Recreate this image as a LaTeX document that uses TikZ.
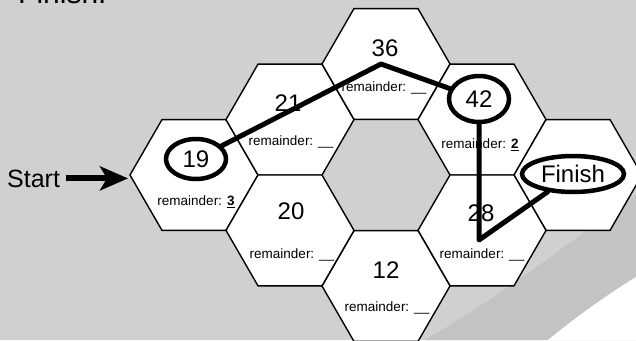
\documentclass[tikz,border=0pt]{standalone}
\usepackage{fontspec}
\setmainfont{Liberation Sans}
\usetikzlibrary{shapes.geometric,arrows.meta}
\definecolor{bg}{HTML}{D0D0D0}
\definecolor{bgdark}{HTML}{C3C3C3}
\begin{document}
\begin{tikzpicture}[x=1pt,y=-1pt,
  hexcell/.style={regular polygon, regular polygon sides=6, minimum size=128pt,
    inner sep=0pt, outer sep=0pt, draw=black, line width=1.4pt, fill=white},
  numtxt/.style={font=\fontsize{24}{28}\selectfont, inner sep=0pt},
  remtxt/.style={font=\fontsize{13.5}{16}\selectfont, inner sep=0pt},
  loopmark/.style={ellipse, draw=black, line width=4.5pt, inner sep=0pt},
  route/.style={line width=5pt, line join=round, line cap=round}
]
\useasboundingbox (0,0) rectangle (636,340);
\clip (0,0) rectangle (636,340);
% background
\fill[bg] (0,0) rectangle (636,340);
\fill[bgdark] (425,340) .. controls (520,285) and (590,225) .. (636,195) -- (636,340) -- cycle;
\fill[white] (548,340) .. controls (575,318) and (605,296) .. (636,277) -- (636,340) -- cycle;

% partially visible heading
\node[anchor=base west, font=\fontsize{30}{34}\selectfont, inner sep=0pt] (title) at (18,3) {Finish!};

% hexagons
\node[hexcell] (h19) at (194,175) {};
\node[hexcell] (h21) at (290,119.6) {};
\node[hexcell] (h36) at (386,64) {};
\node[hexcell] (h42) at (482,119.6) {};
\node[hexcell] (hfin) at (578,175) {};
\node[hexcell] (h28) at (482,230.4) {};
\node[hexcell] (h12) at (386,286) {};
\node[hexcell] (h20) at (290,230.4) {};

% numbers
\node[numtxt] (n21) at (288,103) {21};
\node[numtxt] (n36) at (385,48) {36};
\node[numtxt] (n20) at (291,211) {20};
\node[numtxt] (n28) at (481,213) {28};
\node[numtxt] (n12) at (386,270) {12};

% remainders
\node[remtxt] (r19) at (196,202) {remainder: \underline{\textbf{3}}};
\node[remtxt] (r21) at (291,142) {remainder: \_\_};
\node[remtxt] (r36) at (384,88) {remainder: \_\_};
\node[remtxt] (r42) at (480,145) {remainder: \underline{\textbf{2}}};
\node[remtxt] (r28) at (482,255) {remainder: \_\_};
\node[remtxt] (r20) at (292,255) {remainder: \_\_};
\node[remtxt] (r12) at (387,308) {remainder: \_\_};

% hand-drawn marks
\node[loopmark, numtxt, minimum width=60pt, minimum height=40pt] (c19) at (196,159) {19};
\node[loopmark, numtxt, minimum width=60pt, minimum height=46pt] (c42) at (479,99) {42};
\node[loopmark, numtxt, minimum width=102pt, minimum height=36pt] (cfin) at (573,174) {Finish};

\coordinate (p36) at (381,64);
\coordinate (p28) at (479,240);
\draw[route] (c19) -- (p36) -- (c42);
\draw[route] (c42.south) -- (p28) -- (cfin);

% start
\node[anchor=base west, font=\fontsize{25}{30}\selectfont, inner sep=0pt] (start) at (7,187) {Start};
\draw[line width=6pt, -{Stealth[length=28pt,width=24pt,inset=7pt]}]
  ([xshift=6pt]start.east) -- ([xshift=-2pt]start.east -| h19.west);
\end{tikzpicture}
\end{document}
